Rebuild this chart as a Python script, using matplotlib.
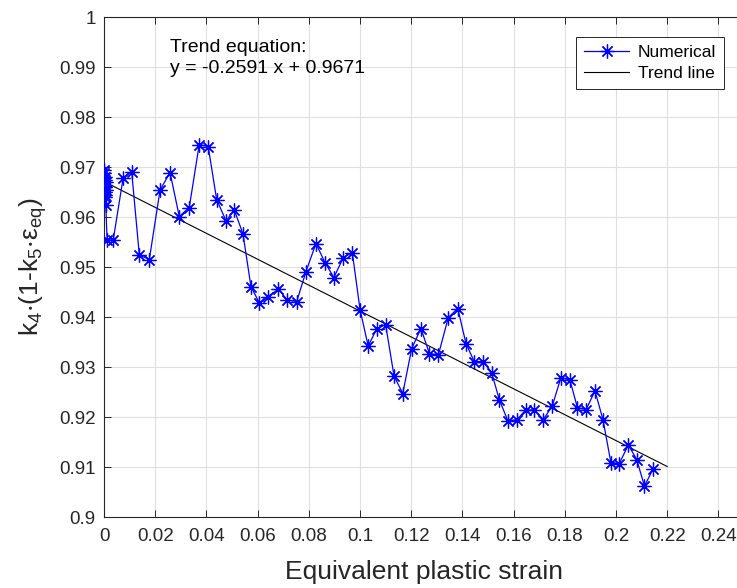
import matplotlib
matplotlib.use("Agg")
import matplotlib.pyplot as plt
import numpy as np

plt.rcParams['font.family'] = ['Liberation Sans', 'DejaVu Sans']
plt.rcParams['mathtext.fontset'] = 'custom'
plt.rcParams['mathtext.rm'] = 'Liberation Sans'
plt.rcParams['mathtext.it'] = 'Liberation Sans'
plt.rcParams['mathtext.default'] = 'regular'

# ---- data ----
strain = [0.0000, 0.0001, 0.0001, 0.0002, 0.0002, 0.0003, 0.0003, 0.0004, 0.0004,
          0.0005, 0.0005, 0.0006, 0.0006, 0.0007,
          0.0012, 0.0036, 0.0075, 0.0108, 0.0138, 0.0177, 0.0219, 0.0258, 0.0294,
          0.0333, 0.0372, 0.0407, 0.0440, 0.0477, 0.0509, 0.0543, 0.0574, 0.0607,
          0.0642, 0.0681, 0.0716, 0.0753, 0.0789, 0.0828, 0.0863, 0.0898, 0.0935,
          0.0970, 0.1000, 0.1032, 0.1065, 0.1100, 0.1133, 0.1167, 0.1202, 0.1238,
          0.1271, 0.1306, 0.1345, 0.1382, 0.1414, 0.1446, 0.1482, 0.1514, 0.1544,
          0.1577, 0.1612, 0.1647, 0.1681, 0.1716, 0.1751, 0.1785, 0.1820, 0.1849,
          0.1883, 0.1918, 0.1949, 0.1980, 0.2013, 0.2048, 0.2081, 0.2111, 0.2146]
numerical = [0.9688, 0.9695, 0.9670, 0.9680, 0.9660, 0.9675, 0.9650, 0.9665, 0.9645,
             0.9660, 0.9640, 0.9655, 0.9670, 0.9624,
             0.9554, 0.9554, 0.9679, 0.9691, 0.9524, 0.9515, 0.9654, 0.9689, 0.9601,
             0.9619, 0.9745, 0.9741, 0.9635, 0.9592, 0.9614, 0.9566, 0.9461, 0.9428,
             0.9441, 0.9456, 0.9434, 0.9431, 0.9491, 0.9547, 0.9509, 0.9479, 0.9519,
             0.9529, 0.9415, 0.9342, 0.9376, 0.9385, 0.9282, 0.9247, 0.9337, 0.9377,
             0.9327, 0.9324, 0.9399, 0.9417, 0.9347, 0.9311, 0.9311, 0.9289, 0.9235,
             0.9193, 0.9194, 0.9214, 0.9214, 0.9195, 0.9222, 0.9279, 0.9274, 0.9219,
             0.9215, 0.9252, 0.9195, 0.9109, 0.9107, 0.9144, 0.9115, 0.9062, 0.9097]
trend_slope = -0.2591
trend_intercept = 0.9671
trend_x = [0.0, 0.22]
trend_y = [trend_intercept + trend_slope * v for v in trend_x]

xticks = [0, 0.02, 0.04, 0.06, 0.08, 0.1, 0.12, 0.14, 0.16, 0.18, 0.2, 0.22, 0.24]
xtick_labels = ['0', '0.02', '0.04', '0.06', '0.08', '0.1', '0.12', '0.14', '0.16',
                '0.18', '0.2', '0.22', '0.24']
yticks = [0.9, 0.91, 0.92, 0.93, 0.94, 0.95, 0.96, 0.97, 0.98, 0.99, 1.0]
ytick_labels = ['0.9', '0.91', '0.92', '0.93', '0.94', '0.95', '0.96', '0.97', '0.98',
                '0.99', '1']

# ---- figure ----
W, H = 737, 588
fig = plt.figure(figsize=(W / 100, H / 100), dpi=100)
ax_l, ax_r, ax_b, ax_t = 104, 744, 517, 17
ax = fig.add_axes([ax_l / W, 1 - ax_b / H, (ax_r - ax_l) / W, (ax_b - ax_t) / H])

dark = '#262626'
asterisk = (8, 2, 0)
ax.plot(strain, numerical, color='blue', lw=0.9, marker=asterisk, markersize=10,
        markeredgewidth=0.9, label='Numerical', zorder=3)
ax.plot(trend_x, trend_y, color='black', lw=0.8, label='Trend line', zorder=2)

ax.set_xlim(0, 0.25)
ax.set_ylim(0.9, 1.0)
ax.set_xticks(xticks)
ax.set_xticklabels(xtick_labels)
ax.set_yticks(yticks)
ax.set_yticklabels(ytick_labels)
ax.grid(True, color='#dfdfdf', lw=0.8)
ax.set_axisbelow(True)
ax.tick_params(direction='in', length=5, width=0.7, colors=dark, labelsize=13.5,
               top=True, right=True)
ax.tick_params(axis='x', pad=8)
ax.tick_params(axis='y', pad=6)
for s in ax.spines.values():
    s.set_color(dark)
    s.set_linewidth(0.8)

ax.set_xlabel('Equivalent plastic strain', fontsize=19, color=dark, labelpad=11)
ax.set_ylabel(r'k$_4$$\cdot$(1-k$_5$$\cdot$$\epsilon_{eq}$)', fontsize=19, color=dark,
              labelpad=7.5)

ax.text(0.0258, 0.9955, 'Trend equation:\ny = -0.2591 x + 0.9671', fontsize=14,
        color='black', va='top', ha='left', linespacing=1.25)

leg = ax.legend(loc='upper right', bbox_to_anchor=(724 / W, 1 - 37 / H),
                bbox_transform=fig.transFigure, fontsize=12.5, fancybox=False,
                edgecolor=dark, framealpha=1, borderaxespad=0, handlelength=2.6,
                borderpad=0.45, labelspacing=0.35, handletextpad=0.5)
leg.get_frame().set_linewidth(0.7)

fig.savefig('out.png', dpi=100)
